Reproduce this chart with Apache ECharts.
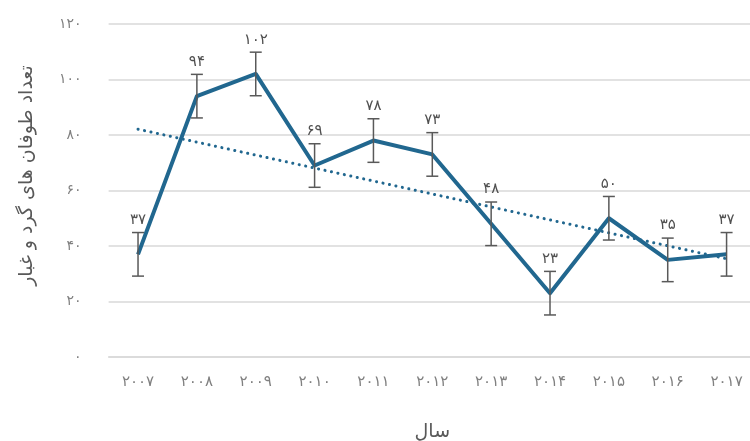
<!DOCTYPE html>
<html><head><meta charset="utf-8">
<script src="https://cdn.jsdelivr.net/npm/echarts@6/dist/echarts.min.js"></script>
<style>html,body{margin:0;padding:0;background:#fff}#c{width:750px;height:441px}</style>
</head><body><div id="c"></div>
<script>
const years = [2007, 2008, 2009, 2010, 2011, 2012, 2013, 2014, 2015, 2016, 2017];
const stormCounts = [37, 94, 102, 69, 78, 73, 48, 23, 50, 35, 37];
const errorAmount = [7.85];
const trendEnds = [82.1, 35.4];
const yTicks = [0, 20, 40, 60, 80, 100, 120];
const yTitle = 'تعداد طوفان های گرد و غبار';
const xTitle = 'سال';

const faDigits = '۰۱۲۳۴۵۶۷۸۹';
function toFa(n){ return String(n).replace(/[0-9]/g, d => faDigits[+d]); }

const FONT = "'DejaVu Sans', sans-serif";
const LINE = '#21678f';
const chart = echarts.init(document.getElementById('c'));
const err = errorAmount[0];

chart.setOption({
  animation: false,
  backgroundColor: '#fff',
  grid: { left: 108.6, right: -6, top: 24, bottom: 84, containLabel: false, outerBoundsMode: 'none' },
  xAxis: {
    type: 'category',
    data: years.map(String),
    boundaryGap: true,
    axisLine: { show: true, lineStyle: { color: '#d9d9d9', width: 1.5 } },
    axisTick: { show: false },
    axisLabel: { formatter: v => toFa(v), color: '#808080', fontFamily: FONT, fontSize: 15, margin: 18 },
    name: xTitle, nameLocation: 'middle', nameGap: 66,
    nameTextStyle: { color: '#595959', fontFamily: FONT, fontSize: 19 }
  },
  yAxis: {
    type: 'value', min: yTicks[0], max: yTicks[yTicks.length-1], interval: yTicks[1]-yTicks[0],
    axisLine: { show: false }, axisTick: { show: false },
    splitLine: { lineStyle: { color: '#d9d9d9', width: 1.5 } },
    axisLabel: { formatter: v => toFa(v), color: '#808080', fontFamily: FONT, fontSize: 14, margin: 27 },
    name: yTitle, nameLocation: 'middle', nameGap: 72, nameRotate: 90,
    nameTextStyle: { color: '#595959', fontFamily: FONT, fontSize: 19, padding: [0, 0, 0, 30] }
  },
  series: [
    {
      type: 'line', data: [[0, trendEnds[0]], [years.length - 1, trendEnds[1]]],
      symbol: 'none', z: 2,
      lineStyle: { color: LINE, width: 3, type: [0.1, 6.5], cap: 'round' }
    },
    {
      type: 'line', data: stormCounts, symbol: 'none', z: 3,
      lineStyle: { color: LINE, width: 4, join: 'round' }
    },
    {
      type: 'custom', z: 4,
      data: stormCounts.map((v, i) => [i, v]),
      renderItem: function (params, api) {
        const i = api.value(0), v = api.value(1);
        const top = api.coord([i, v + err]);
        const bot = api.coord([i, v - err]);
        const cw = 6;
        const st = { stroke: '#595959', lineWidth: 1.5 };
        return {
          type: 'group',
          children: [
            { type: 'line', shape: { x1: top[0], y1: top[1], x2: bot[0], y2: bot[1] }, style: st },
            { type: 'line', shape: { x1: top[0]-cw, y1: top[1], x2: top[0]+cw, y2: top[1] }, style: st },
            { type: 'line', shape: { x1: bot[0]-cw, y1: bot[1], x2: bot[0]+cw, y2: bot[1] }, style: st },
            { type: 'text', style: { x: top[0], y: top[1] - 5, text: toFa(v), textAlign: 'center', textVerticalAlign: 'bottom', fill: '#505050', font: "15px 'DejaVu Sans', sans-serif" } }
          ]
        };
      }
    }
  ]
});
</script>
</body></html>
